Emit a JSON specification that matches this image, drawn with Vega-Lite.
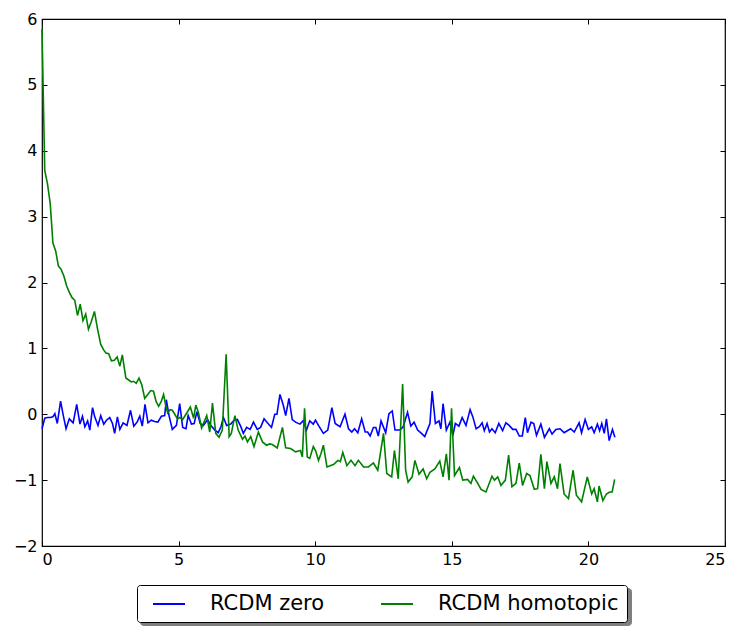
{
  "$schema": "https://vega.github.io/schema/vega-lite/v6.json",
  "width": 683,
  "height": 527,
  "autosize": {"type": "none"},
  "padding": {"left": 42, "top": 19, "right": 23, "bottom": 88},
  "config": {
    "view": {"stroke": "black", "strokeWidth": 1.2},
    "font": "DejaVu Sans",
    "axis": {
      "grid": false,
      "domain": false,
      "tickColor": "black",
      "tickSize": -5,
      "tickWidth": 1,
      "labelFont": "DejaVu Sans",
      "labelFontSize": 16,
      "labelColor": "black",
      "title": null
    },
    "legend": {
      "orient": "none",
      "legendX": 95,
      "legendY": 566,
      "direction": "horizontal",
      "title": null,
      "padding": 8,
      "cornerRadius": 3,
      "symbolType": "M-1.6,0H1.6",
      "symbolSize": 400,
      "symbolStrokeWidth": 2,
      "symbolOffset": 13,
      "labelFont": "DejaVu Sans",
      "labelFontSize": 21,
      "labelColor": "black",
      "labelLimit": 400,
      "labelOffset": 30,
      "columnPadding": 48
    }
  },
  "data": {
    "values": [
      {"x":0.0,"y":-0.22,"s":"RCDM zero"},{"x":0.1,"y":-0.06,"s":"RCDM zero"},{"x":0.2,"y":-0.05,"s":"RCDM zero"},{"x":0.3,"y":-0.05,"s":"RCDM zero"},{"x":0.4,"y":-0.04,"s":"RCDM zero"},{"x":0.47,"y":0.01,"s":"RCDM zero"},{"x":0.56,"y":-0.14,"s":"RCDM zero"},{"x":0.68,"y":0.2,"s":"RCDM zero"},{"x":0.78,"y":-0.02,"s":"RCDM zero"},{"x":0.88,"y":-0.22,"s":"RCDM zero"},
      {"x":1.0,"y":-0.07,"s":"RCDM zero"},{"x":1.07,"y":-0.1,"s":"RCDM zero"},{"x":1.14,"y":-0.13,"s":"RCDM zero"},{"x":1.27,"y":0.15,"s":"RCDM zero"},{"x":1.39,"y":-0.15,"s":"RCDM zero"},{"x":1.48,"y":-0.03,"s":"RCDM zero"},{"x":1.57,"y":-0.19,"s":"RCDM zero"},{"x":1.67,"y":-0.1,"s":"RCDM zero"},{"x":1.75,"y":-0.24,"s":"RCDM zero"},{"x":1.85,"y":0.1,"s":"RCDM zero"},
      {"x":1.93,"y":-0.04,"s":"RCDM zero"},{"x":2.05,"y":-0.17,"s":"RCDM zero"},{"x":2.15,"y":-0.02,"s":"RCDM zero"},{"x":2.26,"y":-0.15,"s":"RCDM zero"},{"x":2.36,"y":-0.09,"s":"RCDM zero"},{"x":2.48,"y":-0.05,"s":"RCDM zero"},{"x":2.58,"y":-0.14,"s":"RCDM zero"},{"x":2.66,"y":-0.29,"s":"RCDM zero"},{"x":2.76,"y":-0.04,"s":"RCDM zero"},{"x":2.85,"y":-0.23,"s":"RCDM zero"},
      {"x":2.97,"y":-0.13,"s":"RCDM zero"},{"x":3.04,"y":-0.15,"s":"RCDM zero"},{"x":3.11,"y":-0.17,"s":"RCDM zero"},{"x":3.24,"y":0.06,"s":"RCDM zero"},{"x":3.36,"y":-0.18,"s":"RCDM zero"},{"x":3.48,"y":-0.12,"s":"RCDM zero"},{"x":3.58,"y":-0.03,"s":"RCDM zero"},{"x":3.67,"y":-0.18,"s":"RCDM zero"},{"x":3.77,"y":0.15,"s":"RCDM zero"},{"x":3.88,"y":-0.13,"s":"RCDM zero"},
      {"x":4.0,"y":-0.09,"s":"RCDM zero"},{"x":4.12,"y":-0.11,"s":"RCDM zero"},{"x":4.24,"y":-0.12,"s":"RCDM zero"},{"x":4.37,"y":-0.03,"s":"RCDM zero"},{"x":4.49,"y":-0.02,"s":"RCDM zero"},{"x":4.55,"y":0.22,"s":"RCDM zero"},{"x":4.65,"y":-0.02,"s":"RCDM zero"},{"x":4.77,"y":-0.23,"s":"RCDM zero"},{"x":4.92,"y":-0.17,"s":"RCDM zero"},{"x":5.04,"y":0.16,"s":"RCDM zero"},
      {"x":5.15,"y":-0.2,"s":"RCDM zero"},{"x":5.27,"y":-0.22,"s":"RCDM zero"},{"x":5.35,"y":-0.02,"s":"RCDM zero"},{"x":5.47,"y":-0.15,"s":"RCDM zero"},{"x":5.57,"y":-0.14,"s":"RCDM zero"},{"x":5.67,"y":0.04,"s":"RCDM zero"},{"x":5.79,"y":-0.14,"s":"RCDM zero"},{"x":5.91,"y":-0.17,"s":"RCDM zero"},{"x":6.06,"y":-0.08,"s":"RCDM zero"},{"x":6.18,"y":-0.17,"s":"RCDM zero"},
      {"x":6.33,"y":-0.24,"s":"RCDM zero"},{"x":6.45,"y":-0.28,"s":"RCDM zero"},{"x":6.55,"y":-0.19,"s":"RCDM zero"},{"x":6.64,"y":-0.05,"s":"RCDM zero"},{"x":6.76,"y":-0.17,"s":"RCDM zero"},{"x":6.91,"y":-0.15,"s":"RCDM zero"},{"x":7.03,"y":-0.09,"s":"RCDM zero"},{"x":7.15,"y":-0.08,"s":"RCDM zero"},{"x":7.27,"y":-0.18,"s":"RCDM zero"},{"x":7.37,"y":-0.29,"s":"RCDM zero"},
      {"x":7.49,"y":-0.2,"s":"RCDM zero"},{"x":7.62,"y":-0.23,"s":"RCDM zero"},{"x":7.74,"y":-0.12,"s":"RCDM zero"},{"x":7.88,"y":-0.23,"s":"RCDM zero"},{"x":8.0,"y":-0.2,"s":"RCDM zero"},{"x":8.13,"y":-0.07,"s":"RCDM zero"},{"x":8.25,"y":-0.13,"s":"RCDM zero"},{"x":8.4,"y":-0.2,"s":"RCDM zero"},{"x":8.52,"y":0.0,"s":"RCDM zero"},{"x":8.6,"y":0.0,"s":"RCDM zero"},
      {"x":8.71,"y":0.3,"s":"RCDM zero"},{"x":8.83,"y":0.14,"s":"RCDM zero"},{"x":8.92,"y":-0.02,"s":"RCDM zero"},{"x":9.04,"y":0.24,"s":"RCDM zero"},{"x":9.16,"y":-0.08,"s":"RCDM zero"},{"x":9.28,"y":-0.12,"s":"RCDM zero"},{"x":9.44,"y":-0.15,"s":"RCDM zero"},{"x":9.56,"y":-0.1,"s":"RCDM zero"},{"x":9.68,"y":-0.24,"s":"RCDM zero"},{"x":9.8,"y":-0.1,"s":"RCDM zero"},
      {"x":9.93,"y":-0.15,"s":"RCDM zero"},{"x":10.01,"y":-0.09,"s":"RCDM zero"},{"x":10.12,"y":-0.17,"s":"RCDM zero"},{"x":10.21,"y":-0.23,"s":"RCDM zero"},{"x":10.3,"y":-0.29,"s":"RCDM zero"},{"x":10.46,"y":-0.24,"s":"RCDM zero"},{"x":10.61,"y":0.1,"s":"RCDM zero"},{"x":10.73,"y":-0.14,"s":"RCDM zero"},{"x":10.91,"y":-0.19,"s":"RCDM zero"},{"x":11.09,"y":0.0,"s":"RCDM zero"},
      {"x":11.22,"y":-0.22,"s":"RCDM zero"},{"x":11.34,"y":-0.27,"s":"RCDM zero"},{"x":11.44,"y":-0.22,"s":"RCDM zero"},{"x":11.56,"y":-0.28,"s":"RCDM zero"},{"x":11.7,"y":-0.07,"s":"RCDM zero"},{"x":11.83,"y":-0.27,"s":"RCDM zero"},{"x":11.92,"y":-0.27,"s":"RCDM zero"},{"x":12.01,"y":-0.33,"s":"RCDM zero"},{"x":12.13,"y":-0.2,"s":"RCDM zero"},{"x":12.22,"y":-0.2,"s":"RCDM zero"},
      {"x":12.31,"y":-0.33,"s":"RCDM zero"},{"x":12.41,"y":-0.1,"s":"RCDM zero"},{"x":12.58,"y":-0.28,"s":"RCDM zero"},{"x":12.7,"y":0.01,"s":"RCDM zero"},{"x":12.82,"y":0.05,"s":"RCDM zero"},{"x":12.92,"y":-0.24,"s":"RCDM zero"},{"x":13.1,"y":-0.24,"s":"RCDM zero"},{"x":13.22,"y":-0.19,"s":"RCDM zero"},{"x":13.38,"y":0.03,"s":"RCDM zero"},{"x":13.5,"y":-0.18,"s":"RCDM zero"},
      {"x":13.62,"y":-0.12,"s":"RCDM zero"},{"x":13.75,"y":-0.24,"s":"RCDM zero"},{"x":13.89,"y":-0.29,"s":"RCDM zero"},{"x":14.01,"y":-0.34,"s":"RCDM zero"},{"x":14.2,"y":-0.14,"s":"RCDM zero"},{"x":14.28,"y":0.35,"s":"RCDM zero"},{"x":14.4,"y":-0.14,"s":"RCDM zero"},{"x":14.53,"y":-0.1,"s":"RCDM zero"},{"x":14.6,"y":-0.22,"s":"RCDM zero"},{"x":14.68,"y":0.16,"s":"RCDM zero"},
      {"x":14.8,"y":-0.24,"s":"RCDM zero"},{"x":14.93,"y":-0.12,"s":"RCDM zero"},{"x":15.04,"y":-0.32,"s":"RCDM zero"},{"x":15.13,"y":-0.14,"s":"RCDM zero"},{"x":15.26,"y":-0.18,"s":"RCDM zero"},{"x":15.38,"y":-0.05,"s":"RCDM zero"},{"x":15.52,"y":-0.17,"s":"RCDM zero"},{"x":15.67,"y":0.07,"s":"RCDM zero"},{"x":15.77,"y":-0.04,"s":"RCDM zero"},{"x":15.89,"y":-0.22,"s":"RCDM zero"},
      {"x":16.01,"y":-0.19,"s":"RCDM zero"},{"x":16.11,"y":-0.13,"s":"RCDM zero"},{"x":16.19,"y":-0.25,"s":"RCDM zero"},{"x":16.29,"y":-0.14,"s":"RCDM zero"},{"x":16.38,"y":-0.27,"s":"RCDM zero"},{"x":16.47,"y":-0.22,"s":"RCDM zero"},{"x":16.59,"y":-0.28,"s":"RCDM zero"},{"x":16.72,"y":-0.14,"s":"RCDM zero"},{"x":16.86,"y":-0.25,"s":"RCDM zero"},{"x":16.98,"y":-0.13,"s":"RCDM zero"},
      {"x":17.1,"y":-0.17,"s":"RCDM zero"},{"x":17.23,"y":-0.23,"s":"RCDM zero"},{"x":17.35,"y":-0.23,"s":"RCDM zero"},{"x":17.47,"y":-0.33,"s":"RCDM zero"},{"x":17.58,"y":-0.33,"s":"RCDM zero"},{"x":17.69,"y":-0.05,"s":"RCDM zero"},{"x":17.77,"y":-0.28,"s":"RCDM zero"},{"x":17.9,"y":-0.12,"s":"RCDM zero"},{"x":18.0,"y":-0.14,"s":"RCDM zero"},{"x":18.1,"y":-0.32,"s":"RCDM zero"},
      {"x":18.26,"y":-0.15,"s":"RCDM zero"},{"x":18.39,"y":-0.35,"s":"RCDM zero"},{"x":18.57,"y":-0.22,"s":"RCDM zero"},{"x":18.67,"y":-0.3,"s":"RCDM zero"},{"x":18.81,"y":-0.23,"s":"RCDM zero"},{"x":18.96,"y":-0.22,"s":"RCDM zero"},{"x":19.11,"y":-0.28,"s":"RCDM zero"},{"x":19.23,"y":-0.25,"s":"RCDM zero"},{"x":19.35,"y":-0.22,"s":"RCDM zero"},{"x":19.48,"y":-0.27,"s":"RCDM zero"},
      {"x":19.66,"y":-0.13,"s":"RCDM zero"},{"x":19.75,"y":-0.28,"s":"RCDM zero"},{"x":19.88,"y":-0.08,"s":"RCDM zero"},{"x":20.0,"y":-0.23,"s":"RCDM zero"},{"x":20.12,"y":-0.19,"s":"RCDM zero"},{"x":20.21,"y":-0.28,"s":"RCDM zero"},{"x":20.33,"y":-0.15,"s":"RCDM zero"},{"x":20.41,"y":-0.25,"s":"RCDM zero"},{"x":20.49,"y":-0.14,"s":"RCDM zero"},{"x":20.58,"y":-0.29,"s":"RCDM zero"},
      {"x":20.66,"y":-0.07,"s":"RCDM zero"},{"x":20.76,"y":-0.4,"s":"RCDM zero"},{"x":20.88,"y":-0.23,"s":"RCDM zero"},{"x":20.97,"y":-0.35,"s":"RCDM zero"},
      {"x":0.0,"y":5.85,"s":"RCDM homotopic"},{"x":0.1,"y":3.7,"s":"RCDM homotopic"},{"x":0.2,"y":3.5,"s":"RCDM homotopic"},{"x":0.3,"y":3.2,"s":"RCDM homotopic"},{"x":0.4,"y":2.6,"s":"RCDM homotopic"},{"x":0.5,"y":2.48,"s":"RCDM homotopic"},{"x":0.6,"y":2.25,"s":"RCDM homotopic"},{"x":0.7,"y":2.2,"s":"RCDM homotopic"},{"x":0.8,"y":2.1,"s":"RCDM homotopic"},{"x":0.9,"y":1.95,"s":"RCDM homotopic"},
      {"x":1.0,"y":1.85,"s":"RCDM homotopic"},{"x":1.1,"y":1.77,"s":"RCDM homotopic"},{"x":1.2,"y":1.73,"s":"RCDM homotopic"},{"x":1.3,"y":1.5,"s":"RCDM homotopic"},{"x":1.4,"y":1.67,"s":"RCDM homotopic"},{"x":1.5,"y":1.42,"s":"RCDM homotopic"},{"x":1.6,"y":1.52,"s":"RCDM homotopic"},{"x":1.7,"y":1.29,"s":"RCDM homotopic"},{"x":1.8,"y":1.4,"s":"RCDM homotopic"},{"x":1.92,"y":1.56,"s":"RCDM homotopic"},
      {"x":2.03,"y":1.3,"s":"RCDM homotopic"},{"x":2.15,"y":1.06,"s":"RCDM homotopic"},{"x":2.25,"y":0.98,"s":"RCDM homotopic"},{"x":2.34,"y":0.93,"s":"RCDM homotopic"},{"x":2.44,"y":0.92,"s":"RCDM homotopic"},{"x":2.54,"y":0.81,"s":"RCDM homotopic"},{"x":2.65,"y":0.82,"s":"RCDM homotopic"},{"x":2.75,"y":0.87,"s":"RCDM homotopic"},{"x":2.85,"y":0.73,"s":"RCDM homotopic"},{"x":2.94,"y":0.9,"s":"RCDM homotopic"},
      {"x":3.07,"y":0.55,"s":"RCDM homotopic"},{"x":3.17,"y":0.52,"s":"RCDM homotopic"},{"x":3.27,"y":0.49,"s":"RCDM homotopic"},{"x":3.36,"y":0.5,"s":"RCDM homotopic"},{"x":3.45,"y":0.47,"s":"RCDM homotopic"},{"x":3.55,"y":0.55,"s":"RCDM homotopic"},{"x":3.65,"y":0.45,"s":"RCDM homotopic"},{"x":3.76,"y":0.24,"s":"RCDM homotopic"},{"x":3.87,"y":0.3,"s":"RCDM homotopic"},{"x":3.98,"y":0.36,"s":"RCDM homotopic"},
      {"x":4.08,"y":0.35,"s":"RCDM homotopic"},{"x":4.18,"y":0.19,"s":"RCDM homotopic"},{"x":4.27,"y":0.12,"s":"RCDM homotopic"},{"x":4.37,"y":0.2,"s":"RCDM homotopic"},{"x":4.45,"y":0.3,"s":"RCDM homotopic"},{"x":4.52,"y":0.15,"s":"RCDM homotopic"},{"x":4.6,"y":0.02,"s":"RCDM homotopic"},{"x":4.69,"y":0.07,"s":"RCDM homotopic"},{"x":4.77,"y":0.06,"s":"RCDM homotopic"},{"x":4.86,"y":0.0,"s":"RCDM homotopic"},
      {"x":4.96,"y":-0.07,"s":"RCDM homotopic"},{"x":5.05,"y":-0.05,"s":"RCDM homotopic"},{"x":5.15,"y":-0.08,"s":"RCDM homotopic"},{"x":5.27,"y":0.0,"s":"RCDM homotopic"},{"x":5.43,"y":0.11,"s":"RCDM homotopic"},{"x":5.55,"y":-0.06,"s":"RCDM homotopic"},{"x":5.63,"y":0.14,"s":"RCDM homotopic"},{"x":5.73,"y":0.02,"s":"RCDM homotopic"},{"x":5.84,"y":-0.21,"s":"RCDM homotopic"},{"x":5.93,"y":-0.12,"s":"RCDM homotopic"},
      {"x":6.03,"y":-0.02,"s":"RCDM homotopic"},{"x":6.14,"y":-0.27,"s":"RCDM homotopic"},{"x":6.24,"y":0.17,"s":"RCDM homotopic"},{"x":6.36,"y":-0.29,"s":"RCDM homotopic"},{"x":6.48,"y":-0.35,"s":"RCDM homotopic"},{"x":6.6,"y":-0.24,"s":"RCDM homotopic"},{"x":6.74,"y":0.91,"s":"RCDM homotopic"},{"x":6.85,"y":-0.34,"s":"RCDM homotopic"},{"x":6.93,"y":-0.29,"s":"RCDM homotopic"},{"x":7.06,"y":-0.02,"s":"RCDM homotopic"},
      {"x":7.18,"y":-0.24,"s":"RCDM homotopic"},{"x":7.34,"y":-0.38,"s":"RCDM homotopic"},{"x":7.43,"y":-0.33,"s":"RCDM homotopic"},{"x":7.52,"y":-0.42,"s":"RCDM homotopic"},{"x":7.64,"y":-0.34,"s":"RCDM homotopic"},{"x":7.76,"y":-0.49,"s":"RCDM homotopic"},{"x":7.92,"y":-0.27,"s":"RCDM homotopic"},{"x":8.07,"y":-0.42,"s":"RCDM homotopic"},{"x":8.22,"y":-0.47,"s":"RCDM homotopic"},{"x":8.33,"y":-0.45,"s":"RCDM homotopic"},
      {"x":8.43,"y":-0.46,"s":"RCDM homotopic"},{"x":8.61,"y":-0.51,"s":"RCDM homotopic"},{"x":8.8,"y":-0.2,"s":"RCDM homotopic"},{"x":8.92,"y":-0.51,"s":"RCDM homotopic"},{"x":9.1,"y":-0.52,"s":"RCDM homotopic"},{"x":9.28,"y":-0.57,"s":"RCDM homotopic"},{"x":9.46,"y":-0.55,"s":"RCDM homotopic"},{"x":9.53,"y":-0.65,"s":"RCDM homotopic"},{"x":9.61,"y":0.09,"s":"RCDM homotopic"},{"x":9.71,"y":-0.65,"s":"RCDM homotopic"},
      {"x":9.8,"y":-0.67,"s":"RCDM homotopic"},{"x":9.93,"y":-0.49,"s":"RCDM homotopic"},{"x":10.02,"y":-0.56,"s":"RCDM homotopic"},{"x":10.12,"y":-0.7,"s":"RCDM homotopic"},{"x":10.21,"y":-0.6,"s":"RCDM homotopic"},{"x":10.3,"y":-0.47,"s":"RCDM homotopic"},{"x":10.43,"y":-0.8,"s":"RCDM homotopic"},{"x":10.55,"y":-0.78,"s":"RCDM homotopic"},{"x":10.68,"y":-0.76,"s":"RCDM homotopic"},{"x":10.83,"y":-0.7,"s":"RCDM homotopic"},
      {"x":10.92,"y":-0.72,"s":"RCDM homotopic"},{"x":11.01,"y":-0.58,"s":"RCDM homotopic"},{"x":11.16,"y":-0.78,"s":"RCDM homotopic"},{"x":11.31,"y":-0.7,"s":"RCDM homotopic"},{"x":11.46,"y":-0.78,"s":"RCDM homotopic"},{"x":11.58,"y":-0.7,"s":"RCDM homotopic"},{"x":11.68,"y":-0.75,"s":"RCDM homotopic"},{"x":11.77,"y":-0.8,"s":"RCDM homotopic"},{"x":11.95,"y":-0.8,"s":"RCDM homotopic"},{"x":12.13,"y":-0.74,"s":"RCDM homotopic"},
      {"x":12.29,"y":-0.85,"s":"RCDM homotopic"},{"x":12.5,"y":-0.29,"s":"RCDM homotopic"},{"x":12.62,"y":-0.9,"s":"RCDM homotopic"},{"x":12.8,"y":-0.95,"s":"RCDM homotopic"},{"x":12.9,"y":-0.55,"s":"RCDM homotopic"},{"x":13.04,"y":-0.98,"s":"RCDM homotopic"},{"x":13.2,"y":0.46,"s":"RCDM homotopic"},{"x":13.31,"y":-0.85,"s":"RCDM homotopic"},{"x":13.4,"y":-1.03,"s":"RCDM homotopic"},{"x":13.55,"y":-0.95,"s":"RCDM homotopic"},
      {"x":13.65,"y":-0.7,"s":"RCDM homotopic"},{"x":13.8,"y":-0.91,"s":"RCDM homotopic"},{"x":13.95,"y":-0.83,"s":"RCDM homotopic"},{"x":14.08,"y":-0.98,"s":"RCDM homotopic"},{"x":14.2,"y":-0.88,"s":"RCDM homotopic"},{"x":14.38,"y":-0.83,"s":"RCDM homotopic"},{"x":14.56,"y":-0.71,"s":"RCDM homotopic"},{"x":14.68,"y":-0.95,"s":"RCDM homotopic"},{"x":14.8,"y":-0.6,"s":"RCDM homotopic"},{"x":14.9,"y":-1.0,"s":"RCDM homotopic"},
      {"x":14.99,"y":0.09,"s":"RCDM homotopic"},{"x":15.1,"y":-0.93,"s":"RCDM homotopic"},{"x":15.28,"y":-0.81,"s":"RCDM homotopic"},{"x":15.4,"y":-1.0,"s":"RCDM homotopic"},{"x":15.58,"y":-0.99,"s":"RCDM homotopic"},{"x":15.7,"y":-1.05,"s":"RCDM homotopic"},{"x":15.79,"y":-0.94,"s":"RCDM homotopic"},{"x":15.95,"y":-1.05,"s":"RCDM homotopic"},{"x":16.07,"y":-1.14,"s":"RCDM homotopic"},{"x":16.25,"y":-1.18,"s":"RCDM homotopic"},
      {"x":16.47,"y":-0.94,"s":"RCDM homotopic"},{"x":16.56,"y":-1.0,"s":"RCDM homotopic"},{"x":16.68,"y":-0.95,"s":"RCDM homotopic"},{"x":16.8,"y":-1.08,"s":"RCDM homotopic"},{"x":16.96,"y":-1.0,"s":"RCDM homotopic"},{"x":17.08,"y":-0.62,"s":"RCDM homotopic"},{"x":17.2,"y":-1.1,"s":"RCDM homotopic"},{"x":17.35,"y":-1.05,"s":"RCDM homotopic"},{"x":17.47,"y":-0.74,"s":"RCDM homotopic"},{"x":17.59,"y":-1.08,"s":"RCDM homotopic"},
      {"x":17.74,"y":-0.9,"s":"RCDM homotopic"},{"x":17.86,"y":-0.93,"s":"RCDM homotopic"},{"x":18.02,"y":-1.14,"s":"RCDM homotopic"},{"x":18.14,"y":-1.13,"s":"RCDM homotopic"},{"x":18.26,"y":-0.61,"s":"RCDM homotopic"},{"x":18.39,"y":-1.13,"s":"RCDM homotopic"},{"x":18.48,"y":-0.72,"s":"RCDM homotopic"},{"x":18.63,"y":-1.05,"s":"RCDM homotopic"},{"x":18.75,"y":-0.95,"s":"RCDM homotopic"},{"x":18.87,"y":-1.13,"s":"RCDM homotopic"},
      {"x":18.96,"y":-0.75,"s":"RCDM homotopic"},{"x":19.11,"y":-1.21,"s":"RCDM homotopic"},{"x":19.27,"y":-1.28,"s":"RCDM homotopic"},{"x":19.44,"y":-0.85,"s":"RCDM homotopic"},{"x":19.56,"y":-1.23,"s":"RCDM homotopic"},{"x":19.75,"y":-1.33,"s":"RCDM homotopic"},{"x":19.96,"y":-0.95,"s":"RCDM homotopic"},{"x":20.12,"y":-1.21,"s":"RCDM homotopic"},{"x":20.21,"y":-1.13,"s":"RCDM homotopic"},{"x":20.33,"y":-1.33,"s":"RCDM homotopic"},
      {"x":20.39,"y":-1.09,"s":"RCDM homotopic"},{"x":20.53,"y":-1.31,"s":"RCDM homotopic"},{"x":20.66,"y":-1.21,"s":"RCDM homotopic"},{"x":20.78,"y":-1.18,"s":"RCDM homotopic"},{"x":20.87,"y":-1.18,"s":"RCDM homotopic"},{"x":20.96,"y":-0.99,"s":"RCDM homotopic"}
    ]
  },
  "transform": [{"calculate": "datum.s", "as": "entry"}],
  "layer": [
    {
      "mark": {"type": "line", "opacity": 0},
      "encoding": {
        "x": {"field": "x", "type": "quantitative", "scale": {"domain": [0, 25], "nice": false},
              "axis": {"orient": "top", "values": [0, 5, 10, 15, 20, 25], "labels": false}},
        "y": {"field": "y", "type": "quantitative", "scale": {"domain": [-2, 6], "nice": false, "zero": false},
              "axis": {"orient": "right", "values": [-2, -1, 0, 1, 2, 3, 4, 5, 6], "labels": false}},
        "detail": {"field": "s"},
        "strokeDash": {"field": "entry", "type": "nominal",
          "scale": {"domain": ["RCDM homotopic", "RCDM zero"], "range": [[1, 0], [1, 0]]},
          "legend": {"legendX": 98, "legendY": 569, "fillColor": "#7f7f7f", "strokeColor": "#7f7f7f",
                     "labelExpr": "''", "columnPadding": 345, "symbolOpacity": 0}}
      }
    },
    {
      "mark": {"type": "line", "strokeWidth": 1.6},
      "encoding": {
        "x": {"field": "x", "type": "quantitative",
              "axis": {"orient": "bottom", "values": [0, 5, 10, 15, 20, 25], "labelPadding": 10}},
        "y": {"field": "y", "type": "quantitative",
              "axis": {"orient": "left", "values": [-2, -1, 0, 1, 2, 3, 4, 5, 6], "labelPadding": 10}},
        "color": {"field": "s", "type": "nominal",
          "scale": {"domain": ["RCDM zero", "RCDM homotopic"], "range": ["#0000ff", "#008000"]},
          "legend": {"fillColor": "white", "strokeColor": "black"}}
      }
    }
  ],
  "resolve": {"axis": {"x": "independent", "y": "independent"}}
}
